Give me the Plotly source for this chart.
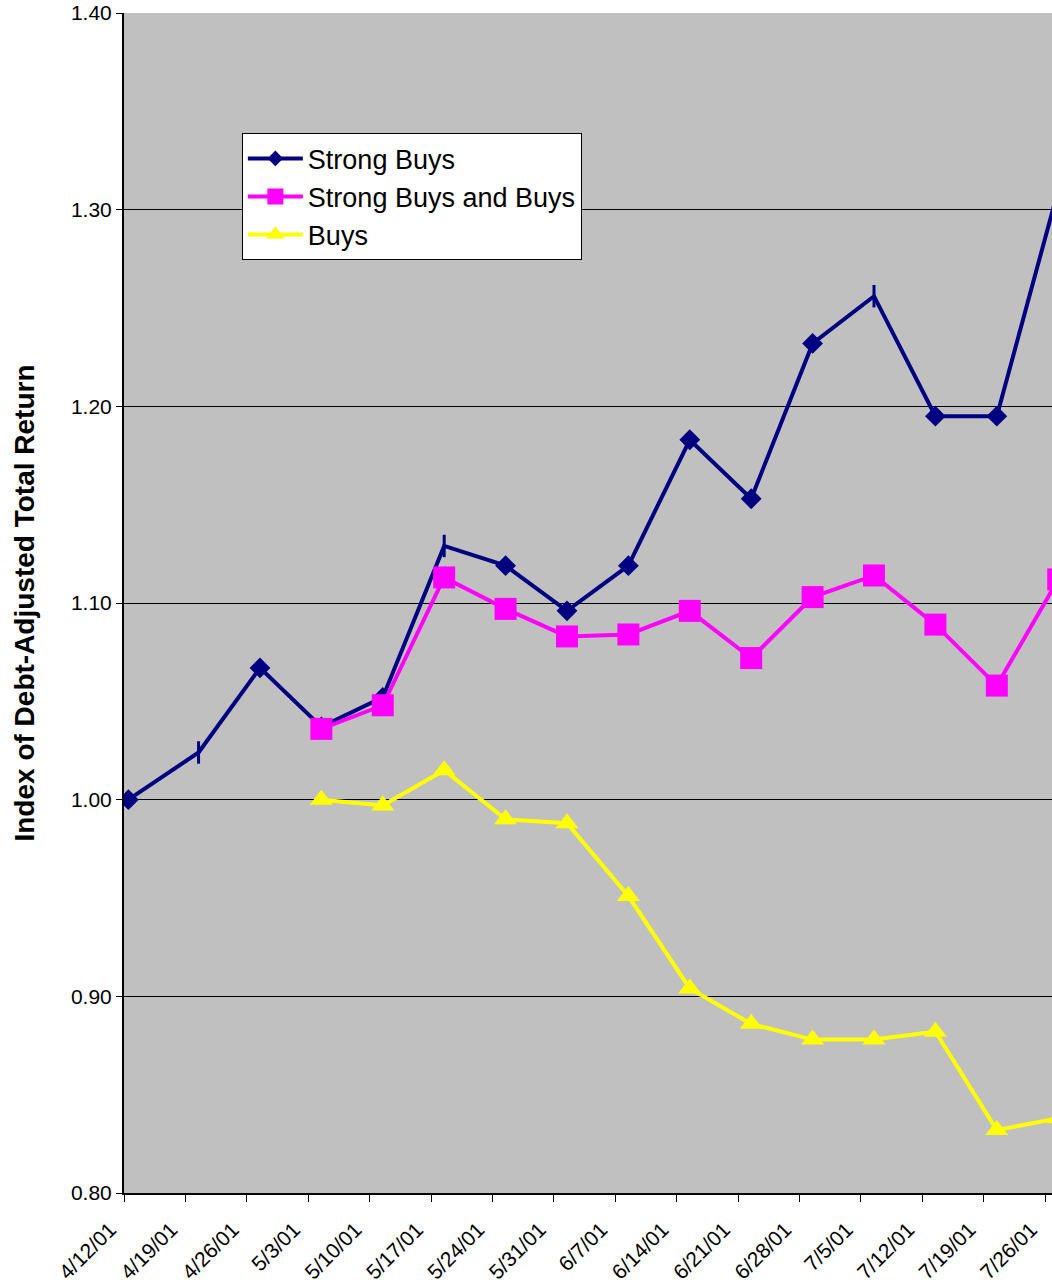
import pandas as pd
import plotly.graph_objects as go

# ---- data ----
dates = ["2001-04-12", "2001-04-20", "2001-04-27", "2001-05-04", "2001-05-11", "2001-05-18",
         "2001-05-25", "2001-06-01", "2001-06-08", "2001-06-15", "2001-06-22", "2001-06-29",
         "2001-07-06", "2001-07-13", "2001-07-20", "2001-07-27"]
strong_buys = [1.000, 1.024, 1.067, 1.037, 1.052, 1.129, 1.119, 1.096, 1.119, 1.183, 1.153,
               1.232, 1.256, 1.195, 1.195, 1.310]
strong_and_buys = [None, None, None, 1.036, 1.048, 1.113, 1.097, 1.083, 1.084, 1.096, 1.072,
                   1.103, 1.114, 1.089, 1.058, 1.112]
buys = [None, None, None, 1.000, 0.997, 1.015, 0.990, 0.988, 0.951, 0.904, 0.886, 0.878,
        0.878, 0.882, 0.832, 0.838]
y_ticks = [0.80, 0.90, 1.00, 1.10, 1.20, 1.30, 1.40]

# points sit in the middle of each day's slot on the date axis
x = pd.to_datetime(dates) + pd.Timedelta(hours=12)

# a few Strong Buys points are drawn with a plain vertical dash instead of a diamond
dash_idx = [1, 5, 12, 15]
sb_sizes = [0 if i in dash_idx else 16 for i in range(len(dates))]

NAVY, MAGENTA, YELLOW = "#000080", "#FF00FF", "#FFFF00"

fig = go.Figure()
fig.add_trace(go.Scatter(
    x=x, y=strong_buys, name="Strong Buys", mode="lines+markers",
    line=dict(color=NAVY, width=4),
    marker=dict(symbol="diamond", size=sb_sizes, color=NAVY, opacity=1,
                line=dict(width=0)),
))
fig.add_trace(go.Scatter(
    x=[x[i] for i in dash_idx], y=[strong_buys[i] for i in dash_idx],
    mode="markers", showlegend=False, hoverinfo="skip",
    marker=dict(symbol="line-ns", size=16, color=NAVY, opacity=1,
                line=dict(color=NAVY, width=3)),
))
fig.add_trace(go.Scatter(
    x=x, y=strong_and_buys, name="Strong Buys and Buys", mode="lines+markers",
    line=dict(color=MAGENTA, width=4),
    marker=dict(symbol="square", size=22, color=MAGENTA),
))
fig.add_trace(go.Scatter(
    x=x, y=buys, name="Buys", mode="lines+markers",
    line=dict(color=YELLOW, width=4),
    marker=dict(symbol="triangle-up", size=20, color=YELLOW),
))

font = "Liberation Sans, Arial, sans-serif"
fig.update_layout(
    width=1052, height=1285,
    margin=dict(l=124, r=0, t=13, b=92),
    paper_bgcolor="white", plot_bgcolor="#C0C0C0",
    font=dict(family=font, size=21, color="black"),
    showlegend=True,
    legend=dict(x=0.127, y=0.898, xanchor="left", yanchor="top",
                bgcolor="white", bordercolor="black", borderwidth=1,
                font=dict(size=27, family=font), tracegroupgap=0,
                itemwidth=55),
    xaxis=dict(
        type="date",
        range=["2001-04-12 00:00", "2001-07-26 19:00"],
        tick0="2001-04-12", dtick=7 * 24 * 3600 * 1000,
        tickformat="%-m/%-d/%y", tickangle=-45,
        ticks="outside", ticklen=7, tickcolor="black", tickwidth=1,
        showline=True, linecolor="black", linewidth=2,
        showgrid=False, zeroline=False,
        tickfont=dict(size=21),
        ticklabeloverflow="allow",
        ticklabelshift=-14, ticklabelstandoff=7,
    ),
    yaxis=dict(
        range=[0.8, 1.4], tickvals=y_ticks, tickformat=".2f",
        ticks="outside", ticklen=6, tickcolor="black",
        showline=True, linecolor="black", linewidth=2,
        showgrid=True, gridcolor="black", gridwidth=1,
        zeroline=False,
        tickfont=dict(size=21),
        title=dict(text="<b>Index of Debt-Adjusted Total Return</b>",
                   font=dict(size=28, family=font), standoff=28),
    ),
)

fig.write_html("out.html")
